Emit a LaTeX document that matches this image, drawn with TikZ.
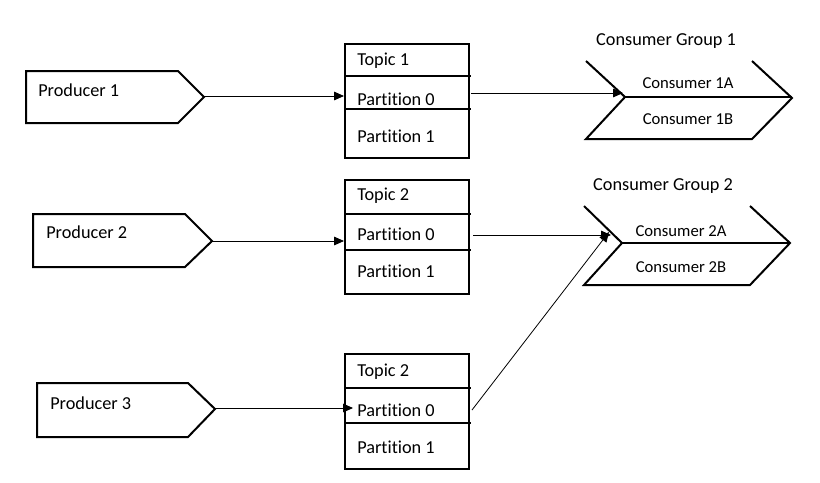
\documentclass[tikz,border=0pt]{standalone}
\usepackage{fontspec}
\setmainfont{Carlito}[Ligatures={NoCommon}]
\usetikzlibrary{arrows.meta}
\begin{document}
\begin{tikzpicture}[x=0.75pt,y=-0.75pt,
  lbl/.style={anchor=west,inner sep=0pt,font=\fontsize{13.7}{15}\selectfont},
  clbl/.style={anchor=center,inner sep=0pt,font=\fontsize{13.7}{15}\selectfont},
  slbl/.style={anchor=center,inner sep=0pt,font=\fontsize{12.5}{14}\selectfont},
  prod/.style={draw,line width=1.5pt,line join=miter},
  cons/.style={draw,line width=1.5pt,line join=miter},
  topicbox/.style={draw,line width=0.8pt},
  sep/.style={draw,line width=0.8pt},
  conn/.style={draw,line width=0.6pt,-{Triangle[length=7.5pt,width=6.5pt]}}]
\useasboundingbox (0,0) rectangle (820,482);

% Producers
\draw[prod] (26,71) -- (178,71) -- (204,97) -- (178,123) -- (26,123) -- cycle;
\coordinate (p1) at (204,96);
\node[lbl] (p1t) at (38,90) {Producer 1};
\draw[prod] (33,214) -- (185,214) -- (212,241) -- (185,267) -- (33,267) -- cycle;
\coordinate (p2) at (212,241);
\node[lbl] (p2t) at (46,232) {Producer 2};
\draw[prod] (37,383) -- (188,383) -- (215,409) -- (188,437) -- (37,437) -- cycle;
\coordinate (p3) at (215,408);
\node[lbl] (p3t) at (50,403) {Producer 3};

% Topic boxes
\draw[topicbox] (345,44) rectangle (469,158);
\draw[sep] (345,76) -- (471,76);
\draw[sep] (345,109) -- (471,109);
\node[lbl] (t1) at (357,61) {Topic 1};
\node[lbl] (t1p0) at (357,99) {Partition 0};
\node[lbl] (t1p1) at (357,136) {Partition 1};
\coordinate (t1in) at (344,96);
\coordinate (t1out) at (471,93);

\draw[topicbox] (345,180) rectangle (469,294);
\draw[sep] (345,214) -- (471,214);
\draw[sep] (345,250) -- (471,250);
\node[lbl] (t2) at (357,196) {Topic 2};
\node[lbl] (t2p0) at (357,234) {Partition 0};
\node[lbl] (t2p1) at (357,271) {Partition 1};
\coordinate (t2in) at (344,241);
\coordinate (t2out) at (473,235);

\draw[topicbox] (345,354) rectangle (469,469);
\draw[sep] (345,388) -- (471,388);
\draw[sep] (345,423) -- (471,423);
\node[lbl] (t3) at (357,372) {Topic 2};
\node[lbl] (t3p0) at (357,410) {Partition 0};
\node[lbl] (t3p1) at (357,447) {Partition 1};
\coordinate (t3in) at (353,408);
\coordinate (t3out) at (472,410);

% Consumer groups
\draw[cons] (586,61) -- (625,97) -- (586,139) -- (752,139) -- (792,98) -- (752,61);
\draw[line width=0.8pt] (625,97) -- (792,97);
\node[clbl] (cg1) at (666,41) {Consumer Group 1};
\node[slbl] (c1a) at (688,83) {Consumer 1A};
\node[slbl] (c1b) at (688,119) {Consumer 1B};
\coordinate (c1in) at (623,93);

\draw[cons] (584,206) -- (622,243) -- (584,285) -- (750,285) -- (790,243) -- (750,206);
\draw[line width=0.8pt] (622,243) -- (790,243);
\node[clbl] (cg2) at (663,186) {Consumer Group 2};
\node[slbl] (c2a) at (681,231) {Consumer 2A};
\node[slbl] (c2b) at (681,267) {Consumer 2B};
\coordinate (c2in) at (611,235);
\coordinate (c2in3) at (609,232);

% Connectors
\draw[conn] (p1) -- (t1in);
\draw[conn] (t1out) -- (c1in);
\draw[conn] (p2) -- (t2in);
\draw[conn] (t2out) -- (c2in);
\draw[conn] (p3) -- (t3in);
\draw[conn] (t3out) -- (c2in3);
\end{tikzpicture}
\end{document}
